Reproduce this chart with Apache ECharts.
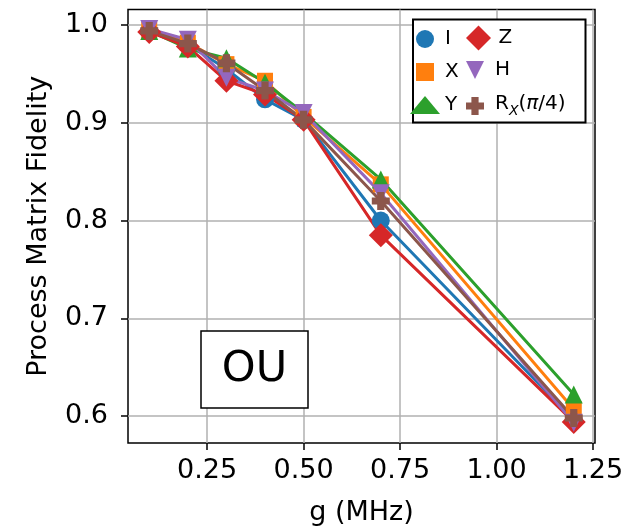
<!DOCTYPE html>
<html>
<head>
    <meta charset="utf-8"/>
    <title>Process Matrix Fidelity</title>
    <script src="https://cdn.jsdelivr.net/npm/echarts@6.0.0/dist/echarts.min.js"></script>
</head>
<body style="margin:0">
<div id="main" style="width: 641px;height:527px;"></div>
<script type="text/javascript">
    // g values (MHz)
    var gValues = [0.1, 0.2, 0.3, 0.4, 0.5, 0.7, 1.2];
    var xTicks = [0.25, 0.50, 0.75, 1.00, 1.25];
    var yTicks = [0.6, 0.7, 0.8, 0.9, 1.0];

    // fidelity per gate
    var fidI  = [0.994, 0.980, 0.955, 0.924, 0.903, 0.800, 0.596];
    var fidX  = [0.995, 0.982, 0.960, 0.943, 0.906, 0.837, 0.607];
    var fidY  = [0.994, 0.976, 0.966, 0.941, 0.910, 0.842, 0.622];
    var fidZ  = [0.993, 0.978, 0.943, 0.929, 0.903, 0.785, 0.594];
    var fidH  = [0.996, 0.985, 0.946, 0.933, 0.910, 0.828, 0.593];
    var fidRx = [0.994, 0.981, 0.961, 0.933, 0.903, 0.820, 0.598];

    var names = ['I', 'X', 'Y', 'Z', 'H', 'R_X(π/4)'];
    var colors = ['#1f77b4', '#ff7f0e', '#2ca02c', '#d62728', '#9467bd', '#8c564b'];
    var fids = [fidI, fidX, fidY, fidZ, fidH, fidRx];

    var square = 'path://M0,0H1V1H0Z';
    var triDown = 'path://M0,0L2,0L1,2Z';
    var diamond = 'path://M1,0L2,1L1,2L0,1Z';
    var plus = 'path://M3,0H7V3H10V7H7V10H3V7H0V3H3Z';
    var symbols = ['circle', square, 'triangle', diamond, triDown, plus];
    var sizes = [18, 16, 18, 24, 18, 18];

    var myChart = echarts.init(document.getElementById('main'));

    var series = [];
    for (var i = 0; i < names.length; i++) {
        var pts = [];
        for (var j = 0; j < gValues.length; j++) {
            pts.push([gValues[j], fids[i][j]]);
        }
        series.push({
            name: names[i],
            type: 'line',
            data: pts,
            symbol: symbols[i],
            symbolSize: sizes[i],
            showAllSymbol: true,
            itemStyle: {color: colors[i]},
            lineStyle: {color: colors[i], width: 3},
            emphasis: {disabled: true},
            animation: false
        });
    }

    var legendText = {
        fontSize: 20,
        color: '#000',
        fontFamily: 'DejaVu Sans',
        rich: {
            a: {fontSize: 20, lineHeight: 24, verticalAlign: 'top', fontFamily: 'DejaVu Sans', color: '#000'},
            i: {fontSize: 20, lineHeight: 24, verticalAlign: 'top', fontStyle: 'italic', fontFamily: 'DejaVu Sans', color: '#000'},
            s: {fontSize: 14, lineHeight: 14, verticalAlign: 'bottom', fontStyle: 'italic', fontFamily: 'DejaVu Sans', color: '#000'}
        }
    };
    function legendFmt(name) {
        if (name === 'R_X(π/4)') return '{a|R}{s|X}{a|(}{i|π}{a|/4)}';
        return name;
    }
    function makeLegend(items, left, top, h, gap) {
        return {
            orient: 'vertical',
            left: left,
            top: top,
            padding: 0,
            itemWidth: 30,
            itemHeight: h,
            itemGap: gap,
            selectedMode: false,
            textStyle: legendText,
            formatter: legendFmt,
            data: items.map(function (k) {
                return {name: names[k], icon: symbols[k]};
            })
        };
    }

    var option = {
        backgroundColor: '#fff',
        textStyle: {fontFamily: 'DejaVu Sans'},
        grid: {
            left: 128, right: 46, top: 9.5, bottom: 84,
            outerBoundsMode: 'none',
            containLabel: false,
            show: true,
            borderColor: '#000',
            borderWidth: 1.5
        },
        legend: [
            makeLegend([0, 1, 2], 410, 29, 18, 13),
            makeLegend([3], 466, 25.5, 25, 10),
            makeLegend([4, 5], 466, 60, 18, 14)
        ],
        xAxis: {
            type: 'value',
            min: 0.045,
            max: 1.255,
            name: 'g (MHz)',
            nameLocation: 'middle',
            nameGap: 56,
            nameTextStyle: {fontSize: 27, color: '#000'},
            axisLine: {show: false},
            axisTick: {show: true, length: 7, customValues: xTicks, lineStyle: {color: '#000', width: 1.5}},
            axisLabel: {
                customValues: xTicks,
                fontSize: 27, color: '#000', margin: 14,
                formatter: function (v) { return v.toFixed(2); }
            },
            splitLine: {show: true, lineStyle: {color: '#b0b0b0', width: 1.5}}
        },
        yAxis: {
            type: 'value',
            min: 0.5724,
            max: 1.0159,
            name: 'Process Matrix Fidelity',
            nameLocation: 'middle',
            nameGap: 76,
            nameTextStyle: {fontSize: 27, color: '#000'},
            axisLine: {show: false},
            axisTick: {show: true, length: 7, customValues: yTicks, lineStyle: {color: '#000', width: 1.5}},
            axisLabel: {
                customValues: yTicks,
                fontSize: 27, color: '#000', margin: 20,
                formatter: function (v) { return v.toFixed(1); }
            },
            splitLine: {show: true, lineStyle: {color: '#b0b0b0', width: 1.5}}
        },
        graphic: [
            {
                type: 'rect',
                z: 3,
                shape: {x: 413, y: 19.5, width: 172.5, height: 103},
                style: {fill: '#fff', stroke: '#000', lineWidth: 2}
            },
            {
                type: 'rect',
                z: 3,
                shape: {x: 201, y: 331, width: 107, height: 77},
                style: {fill: '#fff', stroke: '#000', lineWidth: 1.5}
            },
            {
                type: 'text',
                z: 4,
                x: 254.5,
                y: 370,
                style: {
                    text: 'OU',
                    fill: '#000',
                    font: '43px "DejaVu Sans"',
                    textAlign: 'center',
                    textVerticalAlign: 'middle'
                }
            }
        ],
        series: series
    };

    myChart.setOption(option);
</script>
</body>
</html>
